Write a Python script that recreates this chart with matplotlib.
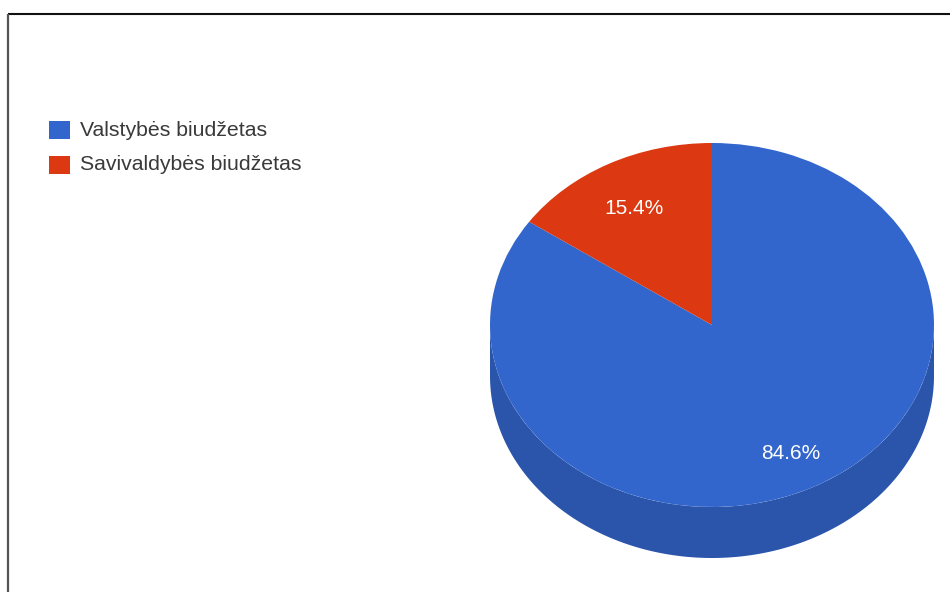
import matplotlib
matplotlib.use('Agg')
import matplotlib.pyplot as plt
import numpy as np
from matplotlib.patches import Rectangle, Polygon

plt.rcParams['font.family'] = ['Liberation Sans', 'DejaVu Sans']

# Budget split
labels = ['Valstybės biudžetas', 'Savivaldybės biudžetas']
shares = [84.6, 15.4]
colors = ['#3366cc', '#dc3912']
side_color = '#2a55ab'

W, H = 950, 592
fig = plt.figure(figsize=(W / 100, H / 100), dpi=100)
fig.patch.set_facecolor('white')

# pixel-space background axes for frame lines and legend
bg = fig.add_axes([0, 0, 1, 1])
bg.set_xlim(0, W)
bg.set_ylim(H, 0)
bg.axis('off')
bg.plot([8, W], [14, 14], color='#111111', lw=1.5, solid_capstyle='butt')
bg.plot([8, 8], [14, H], color='#555555', lw=1.6, solid_capstyle='butt')

# legend
row_y = [130, 165]
for lab, col, y in zip(labels, colors, row_y):
    bg.add_patch(Rectangle((49, y - 9), 21, 18, facecolor=col, edgecolor='none'))
    bg.text(80, y, lab, fontsize=15.3, color='#3a3a3a', va='center', ha='left')

# 3D-looking pie: top face is an ellipse (non-equal aspect), side drawn below
cx, cy = 712, 325
rx, ry = 222, 182
depth = 51
d = depth / ry
left = (cx - rx) / W
bottom = 1 - (cy + ry + depth) / H
ax = fig.add_axes([left, bottom, 2 * rx / W, (2 * ry + depth) / H])
ax.set_xlim(-1, 1)
ax.set_ylim(-1 - d, 1)
ax.axis('off')

t = np.linspace(np.pi, 2 * np.pi, 200)
xs = np.cos(t)
ys = np.sin(t)
side = np.column_stack([np.r_[xs, xs[::-1]], np.r_[ys, ys[::-1] - d]])
ax.add_patch(Polygon(side, closed=True, facecolor=side_color, edgecolor='none', zorder=0))

wedges, texts, autotexts = ax.pie(
    shares, colors=colors, startangle=90, counterclock=False,
    autopct='%.1f%%', pctdistance=0.76, radius=1,
    wedgeprops=dict(linewidth=0), frame=False,
    textprops=dict(color='white', fontsize=15))
# nudge the percentage labels down a little
for at in autotexts:
    x, y = at.get_position()
    at.set_position((x, y - 6 / ry))
ax.set_xlim(-1, 1)
ax.set_ylim(-1 - d, 1)
ax.set_aspect('auto')

fig.savefig('out.png', dpi=100)
